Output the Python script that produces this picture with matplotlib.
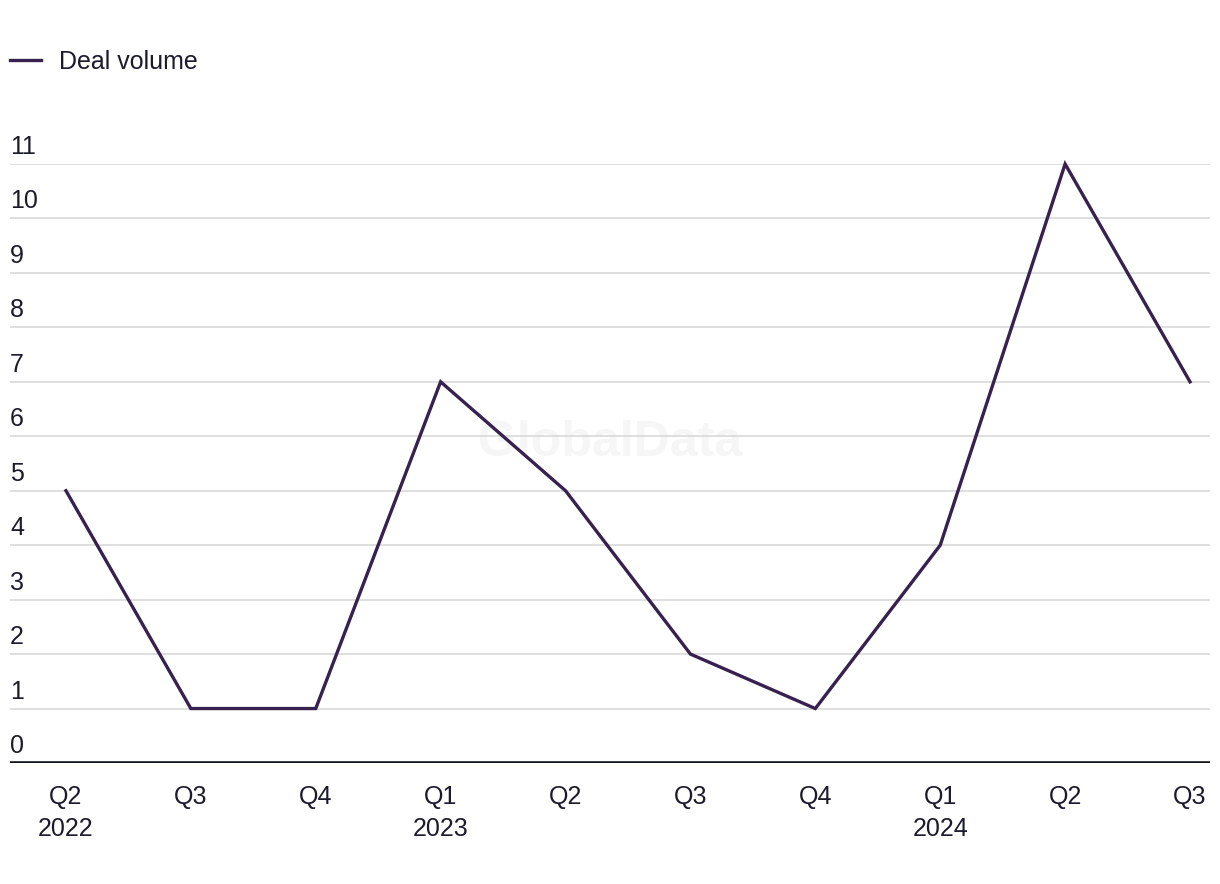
import matplotlib.pyplot as plt
import matplotlib.transforms as mtransforms

quarters = ["Q2\n2022", "Q3", "Q4", "Q1\n2023", "Q2", "Q3", "Q4", "Q1\n2024", "Q2", "Q3"]
deal_volume = [5, 1, 1, 7, 5, 2, 1, 4, 11, 7]
y_ticks = list(range(0, 12))

line_color = "#36214f"
text_color = "#1b1b2b"
grid_color = "#d9d9d9"

plt.rcParams["font.family"] = ["Liberation Sans", "DejaVu Sans"]
fs = 18

fig = plt.figure(figsize=(12.2, 8.84), dpi=100)
ax = fig.add_axes([10 / 1220, (884 - 763) / 884, 1200 / 1220, (763 - 164) / 884])

x = list(range(len(deal_volume)))
ax.plot(x, deal_volume, color=line_color, linewidth=2.4, solid_joinstyle="miter",
        label="Deal volume", clip_on=False, zorder=3)

ax.set_ylim(0, 11)
ax.set_xlim(-0.448, 9.16)

# grid lines
for v in y_ticks[1:]:
    ax.axhline(v, color=grid_color, linewidth=1.2, zorder=1)
ax.axhline(0, color="#15151f", linewidth=2.6, zorder=2)

# y labels sit above the grid lines, inside the axes
trans = mtransforms.blended_transform_factory(ax.transAxes, ax.transData)
offset = mtransforms.offset_copy(trans, fig=fig, x=0, y=17, units="dots")
for v in y_ticks:
    ax.text(0, v, str(v), transform=offset, ha="left", va="center",
            fontsize=fs, color=text_color)

ax.set_yticks([])
ax.set_xticks(x)
ax.set_xticklabels(quarters, fontsize=fs, color=text_color, linespacing=1.4)
ax.tick_params(axis="x", length=0, pad=16)
for s in ax.spines.values():
    s.set_visible(False)

# watermark, behind everything in the plot
ax.text(0.5, 0.534, "GlobalData", transform=ax.transAxes, ha="center", va="center",
        fontsize=36, fontweight="bold", color="#f6f6f6", zorder=0)

leg = fig.legend(loc="center left", bbox_to_anchor=(10 / 1220, 1 - 62 / 884), frameon=False,
                 fontsize=fs, handlelength=1.25, handletextpad=0.72, borderaxespad=0,
                 borderpad=0)
for t in leg.get_texts():
    t.set_color(text_color)

fig.savefig("out.png", dpi=100)
